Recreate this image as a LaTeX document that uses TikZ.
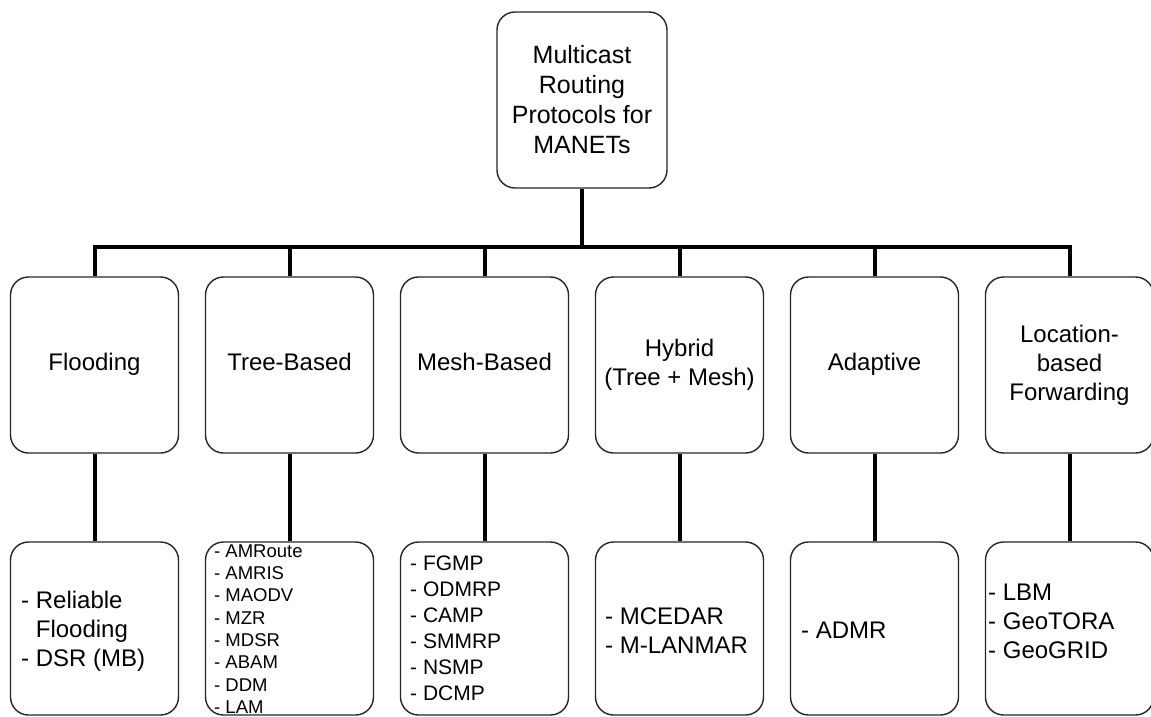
\documentclass[tikz,border=0pt]{standalone}
\usepackage{fontspec}
\setmainfont{Liberation Sans}
\begin{document}
\begin{tikzpicture}[x=1pt,y=-1pt,
  box/.style={draw=black!85, line width=1.4pt, rounded corners=18pt,
    minimum width=168pt, minimum height=176pt, inner sep=0pt,
    align=center, font=\fontsize{24}{29}\selectfont},
  leaf/.style={box, minimum height=173pt},
  link/.style={line width=4pt, line join=miter},
  list/.style={anchor=west, align=left, inner sep=0pt,
    font=\fontsize{24}{29}\selectfont},
  smalllist/.style={list, font=\fontsize{18.5}{22.3}\selectfont},
  midlist/.style={list, font=\fontsize{21}{26}\selectfont}]
  \useasboundingbox (0,0) rectangle (1151,717);
  \fill[white] (0,0) rectangle (1151,717);

  % root
  \node[box, minimum width=170pt, font=\fontsize{25}{30}\selectfont] (root) at (582,100)
    {Multicast\\Routing\\Protocols for\\MANETs};

  % categories
  \node[box] (m1) at (94.5,365)  {\strut Flooding};
  \node[box] (m2) at (289.5,365) {\strut Tree-Based};
  \node[box] (m3) at (484.5,365) {\strut Mesh-Based};
  \node[box] (m4) at (679.5,365) {Hybrid\\(Tree + Mesh)};
  \node[box] (m5) at (874.5,365) {\strut Adaptive};
  \node[box] (m6) at (1069.5,365) {Location-\\based\\Forwarding};

  % protocol lists
  \node[leaf] (b1) at (94.5,628.5)  {};
  \node[leaf] (b2) at (289.5,628.5) {};
  \node[leaf] (b3) at (484.5,628.5) {};
  \node[leaf] (b4) at (679.5,628.5) {};
  \node[leaf] (b5) at (874.5,628.5) {};
  \node[leaf] (b6) at (1069.5,628.5) {};

  \node[list] (t1) at (21,631) {-~Reliable\\\phantom{-~}Flooding\\-~DSR (MB)};
  \node[smalllist] (t2) at (214,629)
    {-~AMRoute\\-~AMRIS\\-~MAODV\\-~MZR\\-~MDSR\\-~ABAM\\-~DDM\\-~LAM};
  \node[midlist] (t3) at (410,628) {-~FGMP\\-~ODMRP\\-~CAMP\\-~SMMRP\\-~NSMP\\-~DCMP};
  \node[list] (t4) at (605,631) {-~MCEDAR\\-~M-LANMAR};
  \node[list] (t5) at (801,630) {-~ADMR};
  \node[list] (t6) at (988,621) {-~LBM\\-~GeoTORA\\-~GeoGRID};

  % bus
  \coordinate (bus) at (582,247);
  \draw[link] (root.south) -- (root.south |- bus);
  \draw[link] (m1.north) -- (m1.north |- bus) -- (m6.north |- bus) -- (m6.north);
  \foreach \k in {2,3,4,5} {
    \draw[link] (m\k.north) -- (m\k.north |- bus);
  }
  \foreach \k in {1,...,6} {
    \draw[link] (m\k.south) -- (b\k.north);
  }
\end{tikzpicture}
\end{document}
